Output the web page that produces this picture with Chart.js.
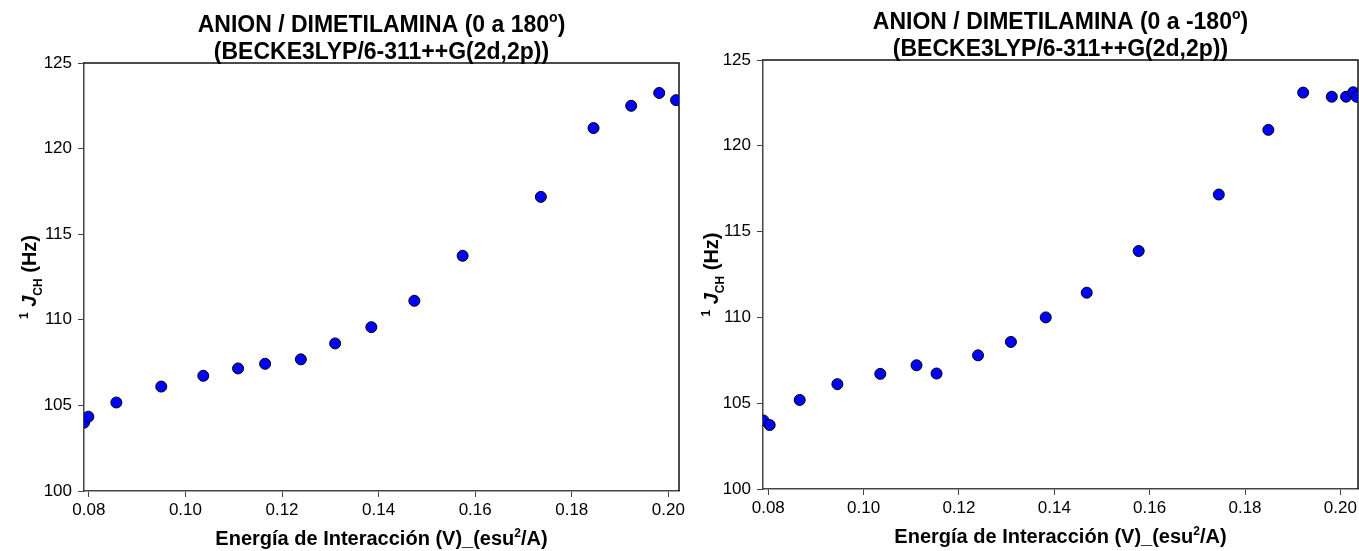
<!DOCTYPE html>
<html lang="es">
<head>
<meta charset="UTF-8">
<title>Anion / Dimetilamina</title>
<script src="https://cdn.jsdelivr.net/npm/chart.js"></script>
<style>
  body { margin: 0; background: #fff; }
  .wrap { position: absolute; top: 0; height: 551px; }
  #left { left: 0; width: 700px; }
  #right { left: 680px; width: 679px; }
</style>
</head>
<body>
<div class="wrap" id="left"><canvas id="chart1"></canvas></div>
<div class="wrap" id="right"><canvas id="chart2"></canvas></div>
<script>
// 0 a 180
var energia180 = [0.0790, 0.0799, 0.0857, 0.0950, 0.1037, 0.1109, 0.1165, 0.1239, 0.1310, 0.1385, 0.1474, 0.1574, 0.1736, 0.1845, 0.1923, 0.1981, 0.2016];
var jch180 = [103.99, 104.34, 105.17, 106.10, 106.73, 107.16, 107.43, 107.69, 108.62, 109.57, 111.11, 113.74, 117.18, 121.20, 122.50, 123.25, 122.83];
// 0 a -180
var energiaM180 = [0.0790, 0.0803, 0.0866, 0.0945, 0.1035, 0.1111, 0.1153, 0.1240, 0.1309, 0.1382, 0.1468, 0.1577, 0.1745, 0.1849, 0.1922, 0.1982, 0.2012, 0.2027, 0.2034];
var jchM180 = [103.99, 103.73, 105.19, 106.11, 106.71, 107.21, 106.73, 107.79, 108.57, 110.00, 111.44, 113.87, 117.16, 120.93, 123.10, 122.86, 122.86, 123.12, 122.86];

var xTicks = [0.08, 0.10, 0.12, 0.14, 0.16, 0.18, 0.20];
var yTicks = [100, 105, 110, 115, 120, 125];

var FAM = '"Liberation Sans", Arial, sans-serif';

function fontFor(p, size) {
  var s = (p.sup || p.sub) ? Math.round(size * 0.62) : size;
  return (p.italic ? 'italic ' : '') + 'bold ' + s + 'px ' + FAM;
}
// draws a line made of parts (with sup / sub), centred on x
function drawRich(ctx, parts, x, y, size) {
  var w = 0;
  parts.forEach(function (p) { ctx.font = fontFor(p, size); w += ctx.measureText(p.t).width; });
  var cx = x - w / 2;
  ctx.textAlign = 'left';
  ctx.textBaseline = 'alphabetic';
  parts.forEach(function (p) {
    ctx.font = fontFor(p, size);
    var dy = p.sup ? -size * 0.42 : (p.sub ? size * 0.28 : 0);
    ctx.fillText(p.t, cx, y + dy);
    cx += ctx.measureText(p.t).width;
  });
}

var xTitle = [{t: 'Energía de Interacción (V)_(esu'}, {t: '2', sup: true}, {t: '/A)'}];
var yTitle = [{t: '1', sup: true}, {t: ' '}, {t: 'J', italic: true}, {t: 'CH', sub: true}, {t: ' (Hz)'}];

function makeChart(id, xs, ys, cfg) {
  var pts = xs.map(function (v, i) { return {x: v, y: ys[i]}; });
  var textos = {
    id: 'textos',
    beforeDatasetsDraw: function (chart) {
      var a = chart.chartArea, ctx = chart.ctx;
      ctx.save();
      ctx.strokeStyle = '#111';
      ctx.lineWidth = 1.5;
      ctx.beginPath();
      ctx.moveTo(a.left, a.top);
      ctx.lineTo(a.right, a.top);
      ctx.lineTo(a.right, a.bottom);
      ctx.stroke();
      ctx.restore();
    },
    afterDraw: function (chart) {
      var a = chart.chartArea, ctx = chart.ctx;
      var cx = (a.left + a.right) / 2;
      ctx.save();
      ctx.fillStyle = '#000';
      drawRich(ctx, cfg.title1, cx, cfg.titleY, 23);
      drawRich(ctx, [{t: '(BECKE3LYP/6-311++G(2d,2p))'}], cx, cfg.titleY + 27, 23);
      drawRich(ctx, xTitle, cx, cfg.xTitleY, 20);
      ctx.translate(cfg.yTitleX, (a.top + a.bottom) / 2);
      ctx.rotate(-Math.PI / 2);
      drawRich(ctx, yTitle, 0, 0, 20);
      ctx.restore();
    }
  };
  return new Chart(document.getElementById(id), {
    type: 'scatter',
    data: {
      datasets: [{
        data: pts,
        pointRadius: 5.5,
        pointBackgroundColor: '#0000ff',
        pointBorderColor: '#000',
        pointBorderWidth: 1
      }]
    },
    options: {
      responsive: true,
      maintainAspectRatio: false,
      animation: false,
      events: [],
      layout: { autoPadding: false, padding: { top: cfg.top, right: cfg.right, left: 0, bottom: 0 } },
      plugins: { legend: { display: false }, tooltip: { enabled: false } },
      scales: {
        x: {
          type: 'linear',
          min: cfg.xmin,
          max: cfg.xmax,
          afterBuildTicks: function (s) { s.ticks = xTicks.map(function (v) { return {value: v}; }); },
          afterFit: function (s) { s.height = cfg.xHeight; s.paddingLeft = 0; s.paddingRight = 0; },
          grid: { drawOnChartArea: false, tickLength: 6, color: '#444' },
          border: { color: '#444', width: 1.5 },
          ticks: {
            color: '#000', padding: 3, maxRotation: 0, autoSkip: false,
            font: { size: 17, family: FAM },
            callback: function (v) { return v.toFixed(2); }
          }
        },
        y: {
          min: 100,
          max: 125,
          afterBuildTicks: function (s) { s.ticks = yTicks.map(function (v) { return {value: v}; }); },
          afterFit: function (s) { s.width = cfg.yWidth; s.paddingTop = 0; s.paddingBottom = 0; },
          grid: { drawOnChartArea: false, tickLength: 6, color: '#444' },
          border: { color: '#444', width: 1.5 },
          ticks: { color: '#000', padding: 6, font: { size: 17, family: FAM } }
        }
      }
    },
    plugins: [textos]
  });
}

makeChart('chart1', energia180, jch180, {
  title1: [{t: 'ANION / DIMETILAMINA (0 a 180'}, {t: 'o', sup: true}, {t: ')'}],
  titleY: 32, xTitleY: 545, yTitleX: 36,
  top: 63, right: 21, xHeight: 60, yWidth: 84, xmin: 0.0790, xmax: 0.2022
});
makeChart('chart2', energiaM180, jchM180, {
  title1: [{t: 'ANION / DIMETILAMINA (0 a -180'}, {t: 'o', sup: true}, {t: ')'}],
  titleY: 29, xTitleY: 543, yTitleX: 38,
  top: 60, right: 1, xHeight: 62, yWidth: 83, xmin: 0.0789, xmax: 0.2037
});
</script>
</body>
</html>
